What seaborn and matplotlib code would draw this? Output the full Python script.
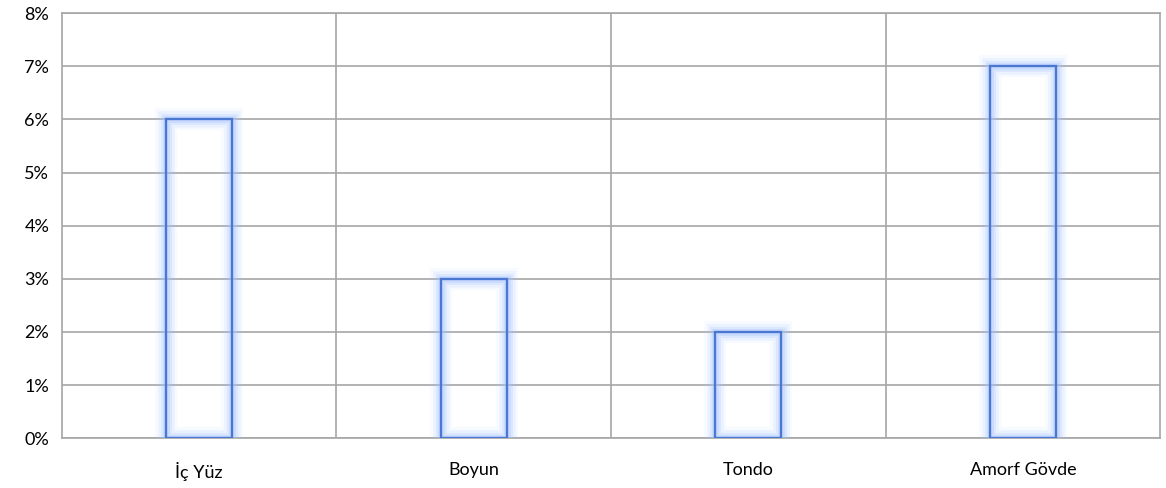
import matplotlib
matplotlib.use("Agg")
import matplotlib.pyplot as plt
import matplotlib.patheffects as pe
from matplotlib.ticker import PercentFormatter
import pandas as pd
import seaborn as sns

categories = ["İç Yüz", "Boyun", "Tondo", "Amorf Gövde"]
values = [6, 3, 2, 7]
y_ticks = [0, 1, 2, 3, 4, 5, 6, 7, 8]

df = pd.DataFrame({"kategori": categories, "oran": values})

sns.set_style("white")
plt.rcParams["font.family"] = ["Lato", "DejaVu Sans"]

fig, ax = plt.subplots(figsize=(11.66, 4.88), dpi=100)
fig.subplots_adjust(left=0.053, right=0.995, top=0.973, bottom=0.102)

sns.barplot(data=df, x="kategori", y="oran", fill=False, width=0.24,
            edgecolor="#4a77cf", linewidth=1.7, ax=ax, zorder=3)

# soft blue glow around each bar outline
glow = [pe.Stroke(linewidth=w, foreground="#a4c2ff", alpha=a)
        for w, a in [(16, 0.08), (12, 0.14), (8, 0.22), (5, 0.3)]] + [pe.Normal()]
for p in ax.patches:
    p.set_path_effects(glow)

ax.set_ylim(0, 8)
ax.set_xlim(-0.5, len(categories) - 0.5)
ax.set_yticks(y_ticks)
ax.yaxis.set_major_formatter(PercentFormatter(decimals=0))
ax.grid(axis="y", color="#a6a6a6", linewidth=1.2, zorder=0)
for xb in [0.5, 1.5, 2.5]:
    ax.axvline(xb, color="#a6a6a6", linewidth=1.2, zorder=0)
for s in ax.spines.values():
    s.set_color("#a6a6a6")
    s.set_linewidth(1.2)
ax.set_xlabel("")
ax.set_ylabel("")
ax.tick_params(axis="both", length=0, labelsize=13, colors="black")
ax.tick_params(axis="y", pad=9)
ax.tick_params(axis="x", pad=17)

fig.savefig("out.png", dpi=100)
